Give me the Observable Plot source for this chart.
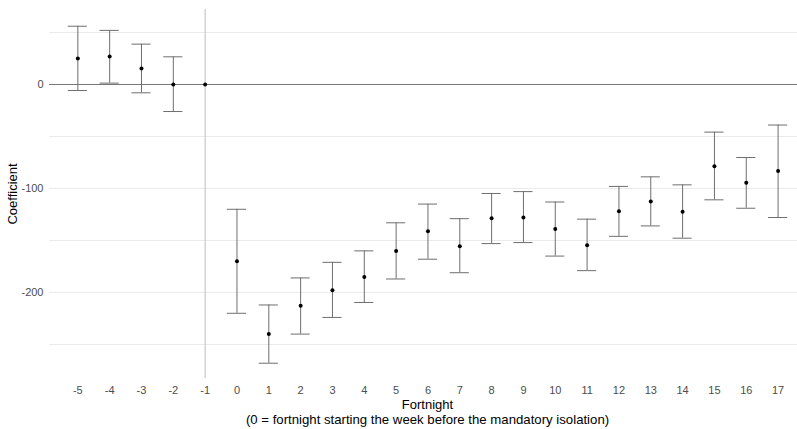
<!DOCTYPE html>
<html>
<head>
<meta charset="utf-8">
<script src="https://cdn.jsdelivr.net/npm/d3@7"></script>
<script src="https://cdn.jsdelivr.net/npm/@observablehq/plot@0.6"></script>
<style>
  html, body { margin: 0; padding: 0; background: #fff; }
  #chart svg { display: block; }
</style>
</head>
<body>
<div id="chart"></div>
<script>
const fortnight = [-5, -4, -3, -2, -1, 0, 1, 2, 3, 4, 5, 6, 7, 8, 9, 10, 11, 12, 13, 14, 15, 16, 17];
const coefficient = [25, 27, 15.4, 0, 0, -170, -240, -212.8, -197.8, -185, -160, -141, -155.5, -128.5, -127.9, -139, -154.5, -122, -112.5, -122.4, -78.5, -94.6, -83.3];
const lowerCI = [-5.8, 1.3, -8, -26, null, -220, -268, -240, -224, -209.6, -187, -168, -181, -153, -152, -165, -179, -146, -136, -147.8, -110.9, -119, -127.9];
const upperCI = [56, 52, 38.8, 26.6, null, -120, -212, -186, -171, -160, -133, -115, -129, -104.8, -103, -113, -129.5, -98, -88.8, -96.5, -45.8, -70.2, -39];
const yTicks = [0, -100, -200];
const yGrid = [50, -50, -100, -150, -200, -250];
const xLabel = "Fortnight";
const xNote = "(0 = fortnight starting the week before the mandatory isolation)";
const yLabel = "Coefficient";

const rows = fortnight.map((f, i) => ({f, c: coefficient[i], lo: lowerCI[i], hi: upperCI[i]}));
const bars = rows.filter(d => d.lo != null);
const fmt = d => String(d);

const chart = Plot.plot({
  width: 797,
  height: 429,
  marginTop: 9,
  marginBottom: 51,
  marginLeft: 49,
  marginRight: 0,
  style: {fontFamily: "'Liberation Sans', Arial, sans-serif", background: "#fff"},
  x: {domain: [-5.89, 17.61]},
  y: {domain: [-282.7, 72.1]},
  marks: [
    Plot.ruleY(yGrid, {stroke: "#ebebeb", strokeWidth: 1}),
    Plot.ruleX([-1], {stroke: "#bdbdbd", strokeWidth: 1}),
    Plot.ruleY([0], {stroke: "#777777", strokeWidth: 1}),
    Plot.ruleX(bars, {x: "f", y1: "lo", y2: "hi", stroke: "#6e6e6e", strokeWidth: 1}),
    Plot.ruleY(bars, {y: "lo", x1: d => d.f - 0.3, x2: d => d.f + 0.3, stroke: "#6e6e6e", strokeWidth: 1}),
    Plot.ruleY(bars, {y: "hi", x1: d => d.f - 0.3, x2: d => d.f + 0.3, stroke: "#6e6e6e", strokeWidth: 1}),
    Plot.dot(rows, {x: "f", y: "c", r: 2, fill: "#000", stroke: null}),
    Plot.axisY({ticks: yTicks, tickFormat: fmt, tickSize: 0, tickPadding: 6, fontSize: 11, color: "#4d4d4d", label: null}),
    Plot.axisX({ticks: fortnight, tickFormat: fmt, tickSize: 0, tickPadding: 8, fontSize: 11, color: "#4d4d4d", label: null}),
    Plot.text([xLabel], {frameAnchor: "bottom", dy: 26, dx: 4, fontSize: 13, fill: "#000", lineAnchor: "middle"}),
    Plot.text([xNote], {frameAnchor: "bottom", dy: 41, dx: 4, fontSize: 13.2, fill: "#000", lineAnchor: "middle"}),
    Plot.text([yLabel], {frameAnchor: "left", dx: -37, rotate: -90, textAnchor: "middle", fontSize: 13, fill: "#000", lineAnchor: "middle"})
  ]
});
document.getElementById("chart").appendChild(chart);
</script>
</body>
</html>
